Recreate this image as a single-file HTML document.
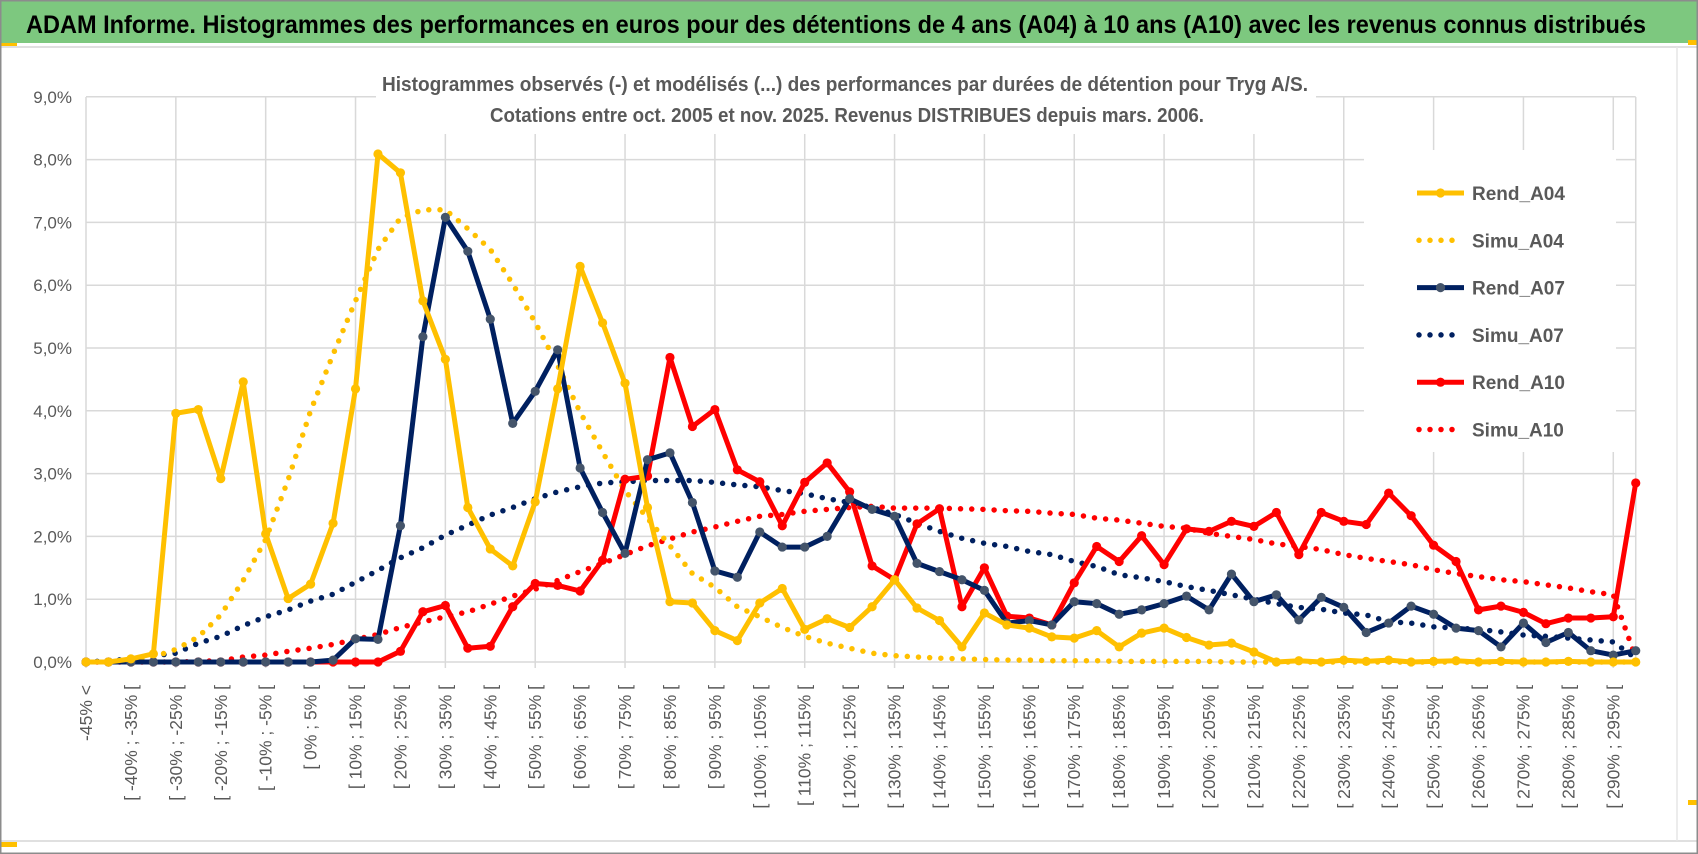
<!DOCTYPE html>
<html><head><meta charset="utf-8"><style>
html,body{margin:0;padding:0;background:#fff;}
svg{display:block;font-family:"Liberation Sans",sans-serif;}
</style></head><body>
<svg id="chart" width="1698" height="854" viewBox="0 0 1698 854" xmlns="http://www.w3.org/2000/svg">
<rect x="0" y="0" width="1698" height="854" fill="#fff"/>
<rect x="0" y="0" width="1698" height="43" fill="#7dc87f"/>
<rect x="0" y="43" width="17" height="4" fill="#ffc000"/>
<line x1="0" y1="47" x2="1698" y2="47" stroke="#e0e0e0" stroke-width="2"/>
<text x="26" y="33" font-size="25" font-weight="bold" fill="#000" textLength="1620" lengthAdjust="spacingAndGlyphs">ADAM Informe. Histogrammes des performances en euros pour des détentions de 4 ans (A04) à 10 ans (A10) avec les revenus connus distribués</text>
<g id="grid"></g>
<g id="xlabels"></g>
<g id="ylabels"></g>
<rect x="376" y="62" width="940" height="72" fill="#fff"/>
<text x="845" y="91" text-anchor="middle" font-size="20" font-weight="bold" fill="#595959" textLength="926" lengthAdjust="spacingAndGlyphs">Histogrammes observés (-) et modélisés (...) des performances par durées de détention pour Tryg A/S.</text>
<text x="847" y="122" text-anchor="middle" font-size="20" font-weight="bold" fill="#595959" textLength="714" lengthAdjust="spacingAndGlyphs">Cotations entre oct. 2005 et nov. 2025. Revenus DISTRIBUES depuis mars. 2006.</text>
<rect x="1364" y="150" width="252" height="302" fill="#fff"/>
<g id="series"></g>
<g id="legend"></g>
<line x1="0" y1="841" x2="1698" y2="841" stroke="#e0e0e0" stroke-width="2"/>
<rect x="0" y="842" width="17" height="5" fill="#ffc000"/>
<line x1="1677" y1="47" x2="1677" y2="841" stroke="#e6e6e6" stroke-width="1.5"/>
<rect x="1688" y="40" width="10" height="5" fill="#ffc000"/>
<rect x="1688" y="800" width="10" height="5" fill="#ffc000"/>
<rect x="0.75" y="0.75" width="1696.5" height="852.5" fill="none" stroke="#8c8c8c" stroke-width="1.5"/>
</svg>
<script>
const categories = ["-45% <","[ -45% ; -40% [","[ -40% ; -35% [","[ -35% ; -30% [","[ -30% ; -25% [","[ -25% ; -20% [","[ -20% ; -15% [","[ -15% ; -10% [","[ -10% ; -5% [","[ -5% ; 0% [","[ 0% ; 5% [","[ 5% ; 10% [","[ 10% ; 15% [","[ 15% ; 20% [","[ 20% ; 25% [","[ 25% ; 30% [","[ 30% ; 35% [","[ 35% ; 40% [","[ 40% ; 45% [","[ 45% ; 50% [","[ 50% ; 55% [","[ 55% ; 60% [","[ 60% ; 65% [","[ 65% ; 70% [","[ 70% ; 75% [","[ 75% ; 80% [","[ 80% ; 85% [","[ 85% ; 90% [","[ 90% ; 95% [","[ 95% ; 100% [","[ 100% ; 105% [","[ 105% ; 110% [","[ 110% ; 115% [","[ 115% ; 120% [","[ 120% ; 125% [","[ 125% ; 130% [","[ 130% ; 135% [","[ 135% ; 140% [","[ 140% ; 145% [","[ 145% ; 150% [","[ 150% ; 155% [","[ 155% ; 160% [","[ 160% ; 165% [","[ 165% ; 170% [","[ 170% ; 175% [","[ 175% ; 180% [","[ 180% ; 185% [","[ 185% ; 190% [","[ 190% ; 195% [","[ 195% ; 200% [","[ 200% ; 205% [","[ 205% ; 210% [","[ 210% ; 215% [","[ 215% ; 220% [","[ 220% ; 225% [","[ 225% ; 230% [","[ 230% ; 235% [","[ 235% ; 240% [","[ 240% ; 245% [","[ 245% ; 250% [","[ 250% ; 255% [","[ 255% ; 260% [","[ 260% ; 265% [","[ 265% ; 270% [","[ 270% ; 275% [","[ 275% ; 280% [","[ 280% ; 285% [","[ 285% ; 290% [","[ 290% ; 295% [","[ 295% ; 300% ["];
const yTicks = [0,1,2,3,4,5,6,7,8,9];
const yTickLabels = ["0,0%","1,0%","2,0%","3,0%","4,0%","5,0%","6,0%","7,0%","8,0%","9,0%"];
const rendA04 = [0,0,0.05,0.13,3.96,4.02,2.92,4.46,2.04,1.01,1.24,2.21,4.35,8.09,7.79,5.75,4.82,2.46,1.8,1.53,2.55,4.35,6.3,5.4,4.44,2.46,0.96,0.94,0.5,0.34,0.94,1.17,0.52,0.69,0.55,0.88,1.31,0.86,0.66,0.24,0.78,0.59,0.54,0.4,0.38,0.5,0.24,0.46,0.54,0.39,0.27,0.3,0.16,0,0.02,0,0.03,0.01,0.03,0,0.01,0.02,0,0.01,0,0,0.01,0,0,0];
const simuA04 = [0,0.01,0.03,0.08,0.2,0.4,0.75,1.3,1.95,2.9,4.0,4.9,5.75,6.57,7.07,7.2,7.2,6.9,6.57,6.02,5.41,4.72,3.98,3.34,2.73,2.29,1.85,1.41,1.19,0.88,0.72,0.55,0.41,0.3,0.22,0.14,0.1,0.08,0.06,0.05,0.04,0.03,0.03,0.02,0.02,0.02,0.01,0.01,0.01,0.01,0.01,0,0,0,0,0,0,0,0,0,0,0,0,0,0,0,0,0,0,0];
const rendA07 = [0,0,0,0,0,0,0,0,0,0,0,0.03,0.37,0.36,2.17,5.18,7.08,6.54,5.46,3.8,4.31,4.97,3.09,2.38,1.73,3.22,3.33,2.54,1.45,1.35,2.07,1.83,1.83,2.0,2.6,2.43,2.32,1.57,1.44,1.31,1.14,0.62,0.66,0.59,0.96,0.93,0.76,0.83,0.93,1.05,0.83,1.4,0.96,1.07,0.67,1.03,0.87,0.47,0.62,0.89,0.76,0.54,0.5,0.24,0.62,0.31,0.47,0.18,0.11,0.18];
const simuA07 = [0,0.02,0.05,0.1,0.14,0.3,0.41,0.58,0.72,0.83,0.97,1.08,1.27,1.46,1.66,1.82,2.02,2.18,2.34,2.46,2.6,2.71,2.79,2.85,2.87,2.89,2.89,2.89,2.86,2.82,2.79,2.73,2.68,2.6,2.54,2.46,2.35,2.21,2.08,1.97,1.89,1.84,1.76,1.71,1.6,1.52,1.39,1.34,1.28,1.2,1.14,1.07,1.0,0.93,0.87,0.84,0.78,0.75,0.64,0.62,0.56,0.54,0.52,0.48,0.43,0.41,0.38,0.35,0.32,0.06];
const rendA10 = [0,0,0,0,0,0,0,0,0,0,0,0,0,0,0.17,0.8,0.9,0.22,0.25,0.88,1.25,1.22,1.13,1.62,2.91,2.96,4.85,3.75,4.02,3.06,2.87,2.17,2.86,3.17,2.71,1.53,1.31,2.2,2.44,0.88,1.5,0.73,0.7,0.59,1.26,1.84,1.6,2.01,1.55,2.12,2.08,2.24,2.16,2.38,1.71,2.38,2.24,2.19,2.69,2.33,1.86,1.6,0.83,0.89,0.79,0.61,0.7,0.7,0.72,2.85];
const simuA10 = [0,0,0,0,0,0.01,0.02,0.08,0.11,0.17,0.22,0.28,0.36,0.44,0.55,0.64,0.72,0.8,0.92,1.05,1.16,1.3,1.44,1.57,1.71,1.85,1.96,2.07,2.15,2.24,2.32,2.35,2.4,2.43,2.46,2.48,2.45,2.45,2.45,2.44,2.43,2.41,2.4,2.37,2.35,2.29,2.26,2.21,2.16,2.13,2.05,2.0,1.95,1.88,1.84,1.79,1.71,1.65,1.6,1.55,1.47,1.41,1.36,1.31,1.28,1.23,1.18,1.12,1.07,0.07];
const seriesNames = ["Rend_A04","Simu_A04","Rend_A07","Simu_A07","Rend_A10","Simu_A10"];

const NS = "http://www.w3.org/2000/svg";
const X0 = 86, XSTEP = 22.46, Y0 = 662, YPX = 62.8, PLOT_TOP = 97;
function xPos(i){ return X0 + i * XSTEP; }
function yPos(v){ return Y0 - v * YPX; }
function mk(tag, attrs, parent){ const e = document.createElementNS(NS, tag); for (const k in attrs) e.setAttribute(k, attrs[k]); parent.appendChild(e); return e; }

const grid = document.getElementById('grid');
yTicks.forEach(function(t){
  const l = mk('line', {x1: xPos(0), x2: xPos(categories.length-1), y1: yPos(t), y2: yPos(t), stroke: '#d9d9d9', 'stroke-width': 1.5}, grid);
  
  
});
for (let i = 0; i < categories.length; i += 4) {
  const l = mk('line', {x1: xPos(i), x2: xPos(i), y1: PLOT_TOP, y2: Y0 + 6, stroke: '#d9d9d9', 'stroke-width': 1.5}, grid);
  
  
}
const rl = mk('line', {x1: xPos(categories.length-1), x2: xPos(categories.length-1), y1: PLOT_TOP, y2: Y0, stroke: '#d9d9d9', 'stroke-width': 1.5}, grid);



const yl = document.getElementById('ylabels');
yTicks.forEach(function(t, k){
  const tx = mk('text', {x: 72, y: yPos(t) + 6, 'text-anchor': 'end', 'font-size': 17, fill: '#595959'}, yl);
  tx.textContent = yTickLabels[k];
  
  
});
const xl = document.getElementById('xlabels');
for (let i = 0; i < categories.length; i += 2) {
  const x = xPos(i) + 6, y = 685;
  const tx = mk('text', {x: x, y: y, 'text-anchor': 'end', 'font-size': 17.5, fill: '#595959', transform: 'rotate(-90 ' + x + ' ' + y + ')'}, xl);
  tx.textContent = categories[i];
  
  
}

const sg = document.getElementById('series');
function drawSolid(data, color, marker, name){
  const g = mk('g', {}, sg);
  
  
  const pts = data.map(function(v, i){ return xPos(i).toFixed(1) + ',' + yPos(v).toFixed(1); }).join(' ');
  mk('polyline', {points: pts, fill: 'none', stroke: color, 'stroke-width': 5, 'stroke-linejoin': 'round'}, g);
  data.forEach(function(v, i){
    const c = mk('circle', {cx: xPos(i), cy: yPos(v), r: 4.6, fill: marker}, g);
    
    
  });
}
function drawDotted(data, color, name){
  const pts = data.map(function(v, i){ return xPos(i).toFixed(1) + ',' + yPos(v).toFixed(1); }).join(' ');
  const p = mk('polyline', {points: pts, fill: 'none', stroke: color, 'stroke-width': 5.5, 'stroke-linecap': 'round', 'stroke-dasharray': '0 11.2'}, sg);
  
  
}
drawDotted(simuA10, '#ff0000', 'simu-a10-line');
drawDotted(simuA07, '#002060', 'simu-a07-line');
drawDotted(simuA04, '#ffc000', 'simu-a04-line');
drawSolid(rendA10, '#ff0000', '#ff0000', 'rend-a10-line');
drawSolid(rendA07, '#002060', '#44546a', 'rend-a07-line');
drawSolid(rendA04, '#ffc000', '#ffc000', 'rend-a04-line');

const lg = document.getElementById('legend');
const legColors = ['#ffc000','#ffc000','#002060','#002060','#ff0000','#ff0000'];
seriesNames.forEach(function(n, k){
  const y = 193 + k * 47.3;
  const g = mk('g', {}, lg);
  
  
  if (k % 2 === 0) {
    mk('line', {x1: 1417, x2: 1464, y1: y, y2: y, stroke: legColors[k], 'stroke-width': 5}, g);
    mk('circle', {cx: 1440.5, cy: y, r: 4.6, fill: k === 2 ? '#44546a' : legColors[k]}, g);
  } else {
    mk('line', {x1: 1419, x2: 1463, y1: y, y2: y, stroke: legColors[k], 'stroke-width': 5.5, 'stroke-linecap': 'round', 'stroke-dasharray': '0 11'}, g);
  }
  const t = mk('text', {x: 1472, y: y + 7, 'font-size': 19, 'font-weight': 'bold', fill: '#595959'}, g);
  t.textContent = n;
});
</script>
</body></html>
